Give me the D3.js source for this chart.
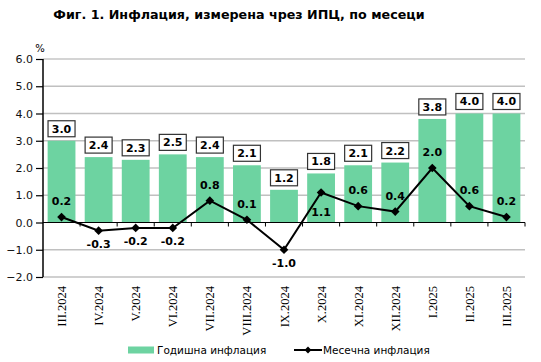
<!DOCTYPE html>
<html>
<head>
<meta charset="utf-8">
<script src="https://cdn.jsdelivr.net/npm/d3@7"></script>
<style>
  body { margin: 0; background: #fff; }
  svg { display: block; }
</style>
</head>
<body>
<div id="chart"></div>
<script>
var months = ["III.2024", "IV.2024", "V.2024", "VI.2024", "VII.2024", "VIII.2024", "IX.2024",
              "X.2024", "XI.2024", "XII.2024", "I.2025", "II.2025", "III.2025"];
var annual = [3.0, 2.4, 2.3, 2.5, 2.4, 2.1, 1.2, 1.8, 2.1, 2.2, 3.8, 4.0, 4.0];
var monthly = [0.2, -0.3, -0.2, -0.2, 0.8, 0.1, -1.0, 1.1, 0.6, 0.4, 2.0, 0.6, 0.2];
// label of the monthly value goes below the point for these
var below = [false, true, true, true, false, false, true, true, false, false, false, false, false];
var yTicks = [-2, -1, 0, 1, 2, 3, 4, 5, 6];

var width = 541, height = 362;
var margins = {top: 59, right: 16, bottom: 85, left: 43};
var green = "#6dd3a1";
var sans = "DejaVu Sans, Verdana, sans-serif";

var svg = d3.select('#chart')
  .append('svg')
  .attr('width', width)
  .attr('height', height);

svg.append('text')
  .attr('x', 239)
  .attr('y', 19)
  .attr('text-anchor', 'middle')
  .attr('font-family', sans)
  .attr('font-weight', 'bold')
  .attr('font-size', 12.7)
  .text('Фиг. 1. Инфлация, измерена чрез ИПЦ, по месеци');

var x = d3.scaleBand()
  .domain(months)
  .range([margins.left, width - margins.right])
  .paddingInner(0.25)
  .paddingOuter(0.125);

var y = d3.scaleLinear()
  .domain([-2, 6])
  .range([height - margins.bottom, margins.top]);

/* grid lines */
svg.append('g')
  .selectAll('line')
  .data(yTicks.filter(function(d) { return d !== 0; }))
  .enter().append('line')
  .attr('x1', margins.left)
  .attr('x2', width - margins.right)
  .attr('y1', function(d) { return y(d); })
  .attr('y2', function(d) { return y(d); })
  .attr('stroke', function(d) { return d === 6 ? '#d4d4d4' : '#c0c0c0'; })
  .attr('stroke-width', function(d) { return d === 6 ? 2 : 1.3; });

/* bars */
svg.append('g')
  .selectAll('rect')
  .data(annual)
  .enter().append('rect')
  .attr('x', function(d, i) { return x(months[i]); })
  .attr('y', function(d) { return y(d); })
  .attr('width', x.bandwidth())
  .attr('height', function(d) { return y(0) - y(d); })
  .attr('fill', green);

/* zero axis with ticks between categories */
var step = x.step();
var zeroAxis = svg.append('g')
  .attr('transform', 'translate(0,' + y(0) + ')');
zeroAxis.append('line')
  .attr('x1', margins.left).attr('x2', width - margins.right)
  .attr('stroke', '#000').attr('stroke-width', 1.2);
zeroAxis.selectAll('.sep')
  .data(months)
  .enter().append('line')
  .attr('class', 'sep')
  .attr('x1', function(d) { return x(d) + x.bandwidth() + (step - x.bandwidth()) / 2; })
  .attr('x2', function(d) { return x(d) + x.bandwidth() + (step - x.bandwidth()) / 2; })
  .attr('y1', 0).attr('y2', 4)
  .attr('stroke', '#000').attr('stroke-width', 1);

/* x labels at the bottom */
svg.append('g')
  .selectAll('text')
  .data(months)
  .enter().append('text')
  .attr('transform', function(d) {
    return 'translate(' + (x(d) + x.bandwidth() / 2 + 4.5) + ',' + (y(-2) + 9) + ') rotate(-90)';
  })
  .attr('text-anchor', 'end')
  .attr('font-family', 'Liberation Serif, Times New Roman, serif')
  .attr('font-size', 12.5)
  .text(function(d) { return d; });

/* y axis */
var yAxis = svg.append('g')
  .attr('transform', 'translate(' + margins.left + ',0)')
  .call(d3.axisLeft(y).tickValues(yTicks).tickSize(7).tickFormat(d3.format('.1f')));
yAxis.select('.domain').attr('stroke-width', 1.5).attr('d', 'M0,' + y(6) + 'V' + y(-2));
yAxis.selectAll('.tick line').attr('stroke-width', 1.2);
yAxis.selectAll('text')
  .attr('font-family', sans)
  .attr('font-size', 11)
  .attr('fill', '#111')
  .attr('x', -10);

svg.append('text')
  .attr('x', 40).attr('y', 52)
  .attr('text-anchor', 'middle')
  .attr('font-family', sans)
  .attr('font-size', 10)
  .text('%');

/* annual value boxes */
var boxes = svg.append('g')
  .selectAll('g')
  .data(annual)
  .enter().append('g')
  .attr('transform', function(d, i) {
    return 'translate(' + (x(months[i]) + x.bandwidth() / 2) + ',' + (y(d) - 12) + ')';
  });
boxes.append('rect')
  .attr('x', -13.5).attr('y', -8)
  .attr('width', 27).attr('height', 16)
  .attr('fill', '#fff')
  .attr('stroke', '#333')
  .attr('stroke-width', 1.2);
boxes.append('text')
  .attr('text-anchor', 'middle')
  .attr('dy', '0.36em')
  .attr('font-family', sans)
  .attr('font-weight', 'bold')
  .attr('font-size', 11)
  .text(function(d) { return d.toFixed(1); });

/* monthly line */
var cx = function(i) { return x(months[i]) + x.bandwidth() / 2; };
var lineFunc = d3.line()
  .x(function(d, i) { return cx(i); })
  .y(function(d) { return y(d); });

svg.append('path')
  .attr('d', lineFunc(monthly))
  .attr('fill', 'none')
  .attr('stroke', '#000')
  .attr('stroke-width', 2);

svg.append('g')
  .selectAll('path')
  .data(monthly)
  .enter().append('path')
  .attr('d', d3.symbol().type(d3.symbolDiamond2).size(48)())
  .attr('transform', function(d, i) { return 'translate(' + cx(i) + ',' + y(d) + ')'; })
  .attr('fill', '#000');

svg.append('g')
  .selectAll('text')
  .data(monthly)
  .enter().append('text')
  .attr('x', function(d, i) { return cx(i); })
  .attr('y', function(d, i) {
    if (months[i] === "X.2024") return y(d) + 20;
    return below[i] ? y(d) + 13 : y(d) - 16;
  })
  .attr('dy', '0.36em')
  .attr('text-anchor', 'middle')
  .attr('font-family', sans)
  .attr('font-weight', 'bold')
  .attr('font-size', 11)
  .text(function(d) { return d.toFixed(1); });

/* legend */
var legend = svg.append('g').attr('transform', 'translate(0,350)');
legend.append('rect')
  .attr('x', 128).attr('y', -3.5)
  .attr('width', 26).attr('height', 7)
  .attr('fill', green);
legend.append('text')
  .attr('x', 157).attr('dy', '0.36em')
  .attr('font-family', sans).attr('font-size', 10.5)
  .text('Годишна инфлация');
legend.append('line')
  .attr('x1', 294).attr('x2', 322)
  .attr('stroke', '#000').attr('stroke-width', 2);
legend.append('path')
  .attr('d', d3.symbol().type(d3.symbolDiamond2).size(30)())
  .attr('transform', 'translate(308,0)');
legend.append('text')
  .attr('x', 323).attr('dy', '0.36em')
  .attr('font-family', sans).attr('font-size', 10.5)
  .text('Месечна инфлация');
</script>
</body>
</html>
